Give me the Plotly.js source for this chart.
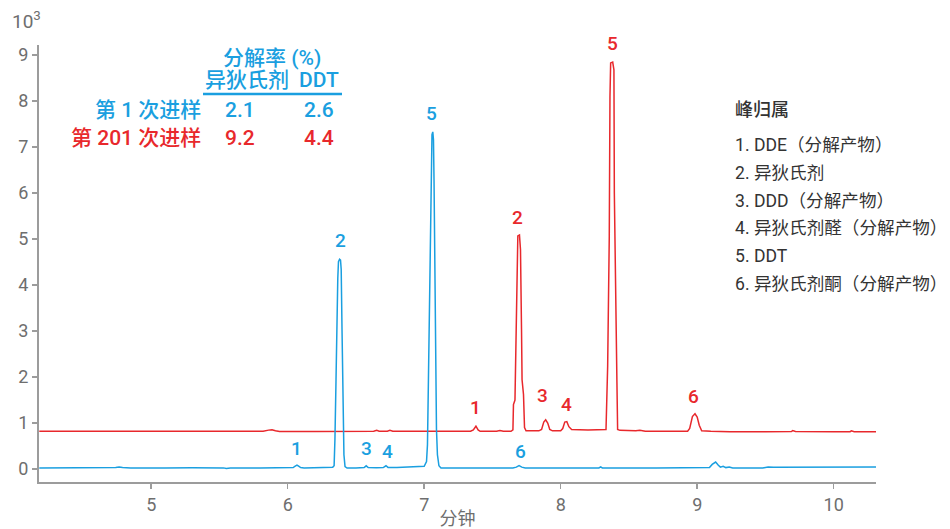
<!DOCTYPE html>
<html>
<head>
<meta charset="utf-8">
<script src="https://cdn.plot.ly/plotly-3.0.1.min.js"></script>
<style>html,body{margin:0;padding:0;background:#fff;}#chart{width:950px;height:529px;}</style>
</head>
<body>
<div id="chart"></div>
<script>
// ---- data ----
const blueTime = [4.18,4.30,4.40,4.52,4.57,4.62,4.70,4.74,4.765,4.79,4.85,4.90,4.945,4.97,5.10,5.30,5.45,5.53,5.55,5.58,5.80,6.00,6.04,6.055,6.068,6.08,6.095,6.12,6.30,6.33,6.340,6.346,6.354,6.361,6.367,6.372,6.380,6.387,6.392,6.398,6.405,6.412,6.420,6.435,6.50,6.56,6.575,6.59,6.65,6.70,6.72,6.735,6.80,6.90,6.98,7.000,7.017,7.024,7.031,7.039,7.046,7.050,7.057,7.063,7.068,7.072,7.077,7.084,7.090,7.097,7.108,7.123,7.30,7.50,7.65,7.675,7.695,7.715,7.74,8.10,8.28,8.293,8.305,8.70,9.06,9.09,9.11,9.135,9.155,9.17,9.19,9.21,9.235,9.26,9.48,9.52,9.56,9.70,9.90,10.05,10.20,10.31];
const blueSignal = [0.020,0.022,0.020,0.024,0.030,0.022,0.026,0.032,0.045,0.030,0.024,0.022,0.036,0.024,0.022,0.026,0.028,0.024,0.012,0.022,0.024,0.024,0.030,0.060,0.085,0.060,0.030,0.024,0.024,0.040,0.070,0.64,1.94,3.68,4.15,4.51,4.56,4.54,4.34,3.03,1.51,0.31,0.05,0.020,0.020,0.030,0.068,0.030,0.025,0.030,0.070,0.035,0.035,0.045,0.055,0.060,0.16,0.53,1.94,3.68,5.20,6.29,7.27,7.33,7.16,6.29,4.55,1.94,0.86,0.31,0.07,0.020,0.020,0.020,0.022,0.040,0.072,0.040,0.022,0.022,0.022,0.045,0.022,0.022,0.022,0.030,0.100,0.150,0.080,0.040,0.060,0.030,0.045,0.022,0.022,0.045,0.040,0.038,0.040,0.045,0.042,0.045];

const redTime = [4.18,4.50,5.00,5.50,5.82,5.86,5.885,5.91,5.94,6.20,6.50,6.63,6.652,6.67,6.73,6.749,6.77,7.00,7.20,7.34,7.36,7.379,7.395,7.41,7.53,7.555,7.58,7.636,7.650,7.654,7.665,7.6725,7.680,7.686,7.698,7.7055,7.713,7.717,7.7275,7.735,7.746,7.84,7.86,7.876,7.890,7.905,7.92,7.94,8.00,8.015,8.030,8.045,8.06,8.08,8.20,8.317,8.332,8.344,8.356,8.361,8.366,8.381,8.390,8.393,8.403,8.412,8.417,8.434,8.55,8.58,8.62,8.80,8.93,8.945,8.965,8.984,9.000,9.015,9.033,9.10,9.24,9.50,9.69,9.70,9.72,10.00,10.12,10.13,10.15,10.31];
const redSignal = [0.82,0.82,0.82,0.82,0.82,0.845,0.855,0.83,0.815,0.815,0.82,0.82,0.84,0.82,0.82,0.84,0.82,0.82,0.82,0.82,0.85,0.93,0.85,0.82,0.82,0.835,0.82,0.82,0.85,1.40,1.50,3.03,4.77,5.07,5.09,4.77,3.03,1.94,1.62,0.90,0.83,0.83,0.86,1.02,1.07,1.00,0.86,0.83,0.83,0.88,1.02,1.03,0.92,0.86,0.85,0.85,0.86,2.23,5.06,8.10,8.83,8.85,8.68,6.00,3.03,1.88,0.86,0.84,0.83,0.84,0.82,0.82,0.82,0.88,1.14,1.20,1.13,0.95,0.83,0.82,0.81,0.81,0.815,0.835,0.815,0.81,0.81,0.83,0.81,0.81];

const peakNames = ["1","2","3","4","5","6"];
const blueLabelX = [6.061,6.390,6.574,6.734,7.056,7.702];
const blueLabelY = [0.44,4.96,0.44,0.376,7.72,0.376];
const redLabelX = [7.379,7.687,7.870,8.039,8.383,8.976];
const redLabelY = [1.333,5.46,1.593,1.398,9.246,1.572];

const tableHeader = "分解率 (%)";
const tableCols = ["异狄氏剂","DDT"];
const rowNames = ["第 1 次进样","第 201 次进样"];
const rowEndrin = ["2.1","9.2"];
const rowDDT = ["2.6","4.4"];

const assignTitle = "峰归属";
const assignItems = ["1. DDE（分解产物）","2. 异狄氏剂","3. DDD（分解产物）","4. 异狄氏剂醛（分解产物）","5. DDT","6. 异狄氏剂酮（分解产物）"];

const xTitle = "分钟";
const yUnit = "10<sup>3</sup>";

// ---- style ----
const BLUE = "#1a9fe0";
const RED = "#e8282c";
const FONT = "Roboto, 'Noto Sans CJK SC', sans-serif";
const AXC = "#9c9c9c";
const TXC = "#6e6e6e";

// plot area in px: left 39, right 876, top 45, bottom 482
const L = 39, R = 876, T = 45, B = 482;
const PX = p => (p - L) / (R - L);
const PY = p => (B - p) / (B - T);
const YMAX = 9.22;

const annotations = [];
function peakLabel(x, y, n, color) {
  // keep the anchor inside the axis range so Plotly draws it, shift the rest in px
  const yIn = Math.min(y, YMAX - 0.01);
  return {x: x, y: yIn, xref: "x", yref: "y", text: n, showarrow: false,
    yshift: (y - yIn) * 46,
    font: {family: FONT, size: 19, color: color, weight: 500}, xanchor: "center", yanchor: "middle"};
}
peakNames.forEach((n, i) => {
  annotations.push(peakLabel(blueLabelX[i], blueLabelY[i], n, BLUE));
  annotations.push(peakLabel(redLabelX[i], redLabelY[i], n, RED));
});

const tf = (c) => ({family: FONT, size: 21, color: c, weight: 500});
annotations.push({x: PX(272), y: PY(58), xref: "paper", yref: "paper", text: tableHeader, showarrow: false, font: tf(BLUE), xanchor: "center", yanchor: "middle"});
annotations.push({x: PX(203), y: PY(80), xref: "paper", yref: "paper", text: tableCols[0], showarrow: false, font: tf(BLUE), xanchor: "left", yanchor: "middle"});
annotations.push({x: PX(341), y: PY(80), xref: "paper", yref: "paper", text: tableCols[1], showarrow: false, font: tf(BLUE), xanchor: "right", yanchor: "middle"});
const rowY = [110, 138];
const rowC = [BLUE, RED];
rowNames.forEach((r, i) => {
  annotations.push({x: PX(203), y: PY(rowY[i]), xref: "paper", yref: "paper", text: r, showarrow: false, font: tf(rowC[i]), xanchor: "right", yanchor: "middle"});
  annotations.push({x: PX(240), y: PY(rowY[i]), xref: "paper", yref: "paper", text: rowEndrin[i], showarrow: false, font: tf(rowC[i]), xanchor: "center", yanchor: "middle"});
  annotations.push({x: PX(319), y: PY(rowY[i]), xref: "paper", yref: "paper", text: rowDDT[i], showarrow: false, font: tf(rowC[i]), xanchor: "center", yanchor: "middle"});
});

annotations.push({x: PX(734), y: PY(110), xref: "paper", yref: "paper", text: assignTitle, showarrow: false, borderpad: 0,
  font: {family: FONT, size: 18, color: "#333333", weight: 500}, xanchor: "left", yanchor: "middle"});
assignItems.forEach((t, i) => {
  annotations.push({x: PX(734), y: PY(145 + i * 27.8), xref: "paper", yref: "paper", text: t, showarrow: false, borderpad: 0,
    font: {family: FONT, size: 17.6, color: "#333333"}, xanchor: "left", yanchor: "middle"});
});

annotations.push({x: PX(10), y: PY(20), xref: "paper", yref: "paper", text: yUnit, showarrow: false,
  font: {family: FONT, size: 19, color: TXC}, xanchor: "left", yanchor: "middle"});

const shapes = [{type: "line", xref: "paper", yref: "paper", x0: PX(203), x1: PX(342), y0: PY(94), y1: PY(94),
  line: {color: BLUE, width: 2.5}}];

const traces = [
  {x: redTime, y: redSignal, type: "scatter", mode: "lines", line: {color: RED, width: 1.5}, hoverinfo: "skip"},
  {x: blueTime, y: blueSignal, type: "scatter", mode: "lines", line: {color: BLUE, width: 1.5}, hoverinfo: "skip"}
];

const axisCommon = {
  showline: true, linecolor: AXC, linewidth: 2, ticks: "outside", ticklen: 5, tickwidth: 1.5, tickcolor: AXC,
  tickfont: {family: FONT, size: 18, color: TXC}, showgrid: false, zeroline: false, dtick: 1
};

const layout = {
  width: 950, height: 529,
  margin: {l: L, r: 950 - R, t: T, b: 529 - B, pad: 0},
  paper_bgcolor: "#ffffff", plot_bgcolor: "#ffffff",
  showlegend: false,
  font: {family: FONT},
  xaxis: Object.assign({}, axisCommon, {range: [4.178, 10.31], tick0: 5,
    title: {text: xTitle, font: {family: FONT, size: 18, color: TXC}, standoff: 4}}),
  yaxis: Object.assign({}, axisCommon, {range: [-0.283, YMAX], tick0: 0}),
  annotations: annotations,
  shapes: shapes
};

Plotly.newPlot("chart", traces, layout, {staticPlot: true, displayModeBar: false});
</script>
</body>
</html>
